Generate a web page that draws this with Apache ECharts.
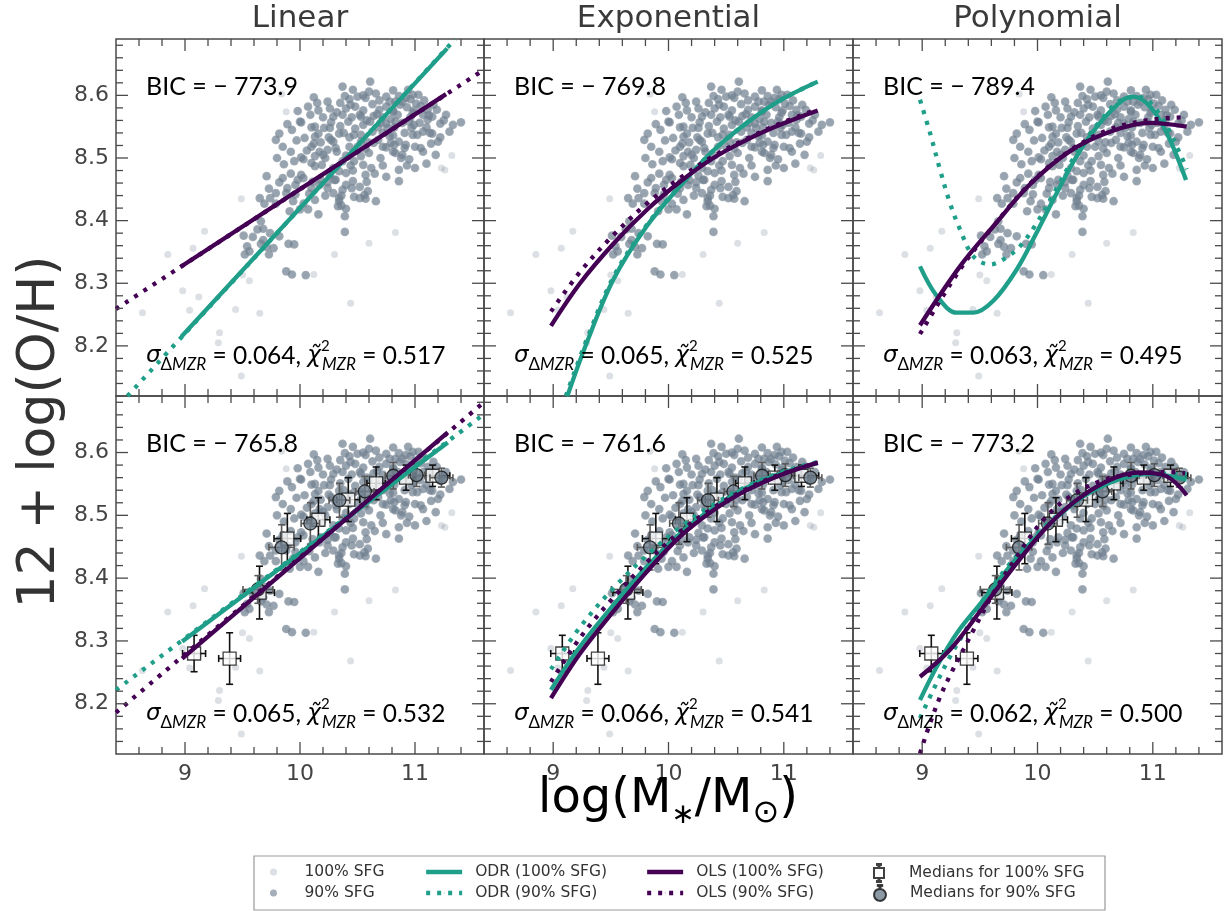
<!DOCTYPE html>
<html>
<head>
<meta charset="utf-8">
<title>Mass–metallicity relation fits</title>
<script src="https://cdn.jsdelivr.net/npm/echarts@6.0.0/dist/echarts.min.js"></script>
<style>
  html, body { margin: 0; padding: 0; background: #ffffff; }
  #chart { width: 1230px; height: 911px; }
</style>
</head>
<body>
<div id="chart"></div>
<script>
// ---- axis ranges and ticks ----
const X_RANGE = [8.4, 11.6];
const Y_RANGE = [8.12, 8.69];
const xMajorTicks = [9, 10, 11];
const xMinorTicks = [8.6, 8.8, 9.2, 9.4, 9.6, 9.8, 10.2, 10.4, 10.6, 10.8, 11.2, 11.4];
const yMajorTicks = [8.2, 8.3, 8.4, 8.5, 8.6];
const yMinorTicks = [8.14, 8.16, 8.18, 8.22, 8.24, 8.26, 8.28, 8.32, 8.34, 8.36, 8.38,
  8.42, 8.44, 8.46, 8.48, 8.52, 8.54, 8.56, 8.58, 8.62, 8.64, 8.66, 8.68];

// ---- panel annotations ----
const modelNames = ['Linear', 'Exponential', 'Polynomial'];
const bicTop = ['773.9', '769.8', '789.4'];
const bicBottom = ['765.8', '761.6', '773.2'];
const sigmaTop = ['0.064', '0.065', '0.063'];
const sigmaBottom = ['0.065', '0.066', '0.062'];
const chi2Top = ['0.517', '0.525', '0.495'];
const chi2Bottom = ['0.532', '0.541', '0.500'];

// ---- galaxies: 90% star-forming sample ----
const sfg90 = [
  [10.61,8.622],[10.37,8.614],[10.60,8.606],[10.12,8.597],[10.39,8.599],[10.43,8.594],[10.50,8.598],
  [10.57,8.596],[10.75,8.598],[10.81,8.608],[10.86,8.599],[10.94,8.609],[11.03,8.601],[10.96,8.594],
  [10.69,8.592],[10.89,8.590],[10.46,8.609],
  [10.07,8.582],[10.16,8.576],[10.26,8.579],[10.32,8.573],[10.40,8.579],[10.48,8.582],[10.55,8.576],
  [10.63,8.586],[10.75,8.582],[10.81,8.576],[10.87,8.585],[10.93,8.581],[10.99,8.576],[11.05,8.583],
  [11.11,8.577],[11.19,8.577],[11.27,8.569],[11.15,8.566],[11.07,8.569],[10.09,8.569],[10.20,8.565],
  [10.29,8.566],[10.37,8.569],[10.45,8.565],[10.52,8.569],[10.64,8.567],[10.72,8.565],[10.85,8.569],
  [10.96,8.565],[10.69,8.577],
  [9.89,8.554],[10.01,8.557],[10.10,8.549],[10.21,8.548],[10.27,8.557],[10.35,8.551],[10.42,8.558],
  [10.48,8.547],[10.55,8.553],[10.61,8.558],[10.68,8.549],[10.75,8.555],[10.82,8.549],[10.89,8.556],
  [10.97,8.548],[11.04,8.556],[11.10,8.549],[11.22,8.555],[11.33,8.553],[11.40,8.557],[11.15,8.539],
  [11.07,8.542],[10.98,8.537],[10.91,8.540],[10.81,8.536],[10.72,8.540],[10.63,8.542],[10.53,8.537],
  [10.43,8.533],[10.34,8.539],[10.25,8.533],[10.16,8.539],[9.82,8.539],[9.79,8.529],[10.04,8.532],
  [9.85,8.518],[9.92,8.510],[10.12,8.523],[10.18,8.525],[10.29,8.526],[10.43,8.518],[10.50,8.518],
  [10.64,8.524],[10.72,8.518],[10.83,8.508],[10.91,8.516],[11.00,8.518],[11.07,8.510],[11.14,8.523],
  [11.20,8.526],[10.32,8.510],[10.40,8.504],[10.53,8.503],[10.60,8.508],[10.75,8.517],[10.82,8.521],
  [10.17,8.510],
  [10.03,8.498],[10.10,8.492],[10.19,8.489],[10.29,8.484],[10.37,8.495],[10.44,8.488],[10.55,8.489],
  [10.62,8.484],[10.72,8.488],[10.86,8.481],[10.93,8.488],[11.00,8.484],[11.10,8.491],[10.13,8.487],
  [10.01,8.473],[10.26,8.472],[10.34,8.479],[10.46,8.480],[10.57,8.473],[10.65,8.475],[10.86,8.463],
  [10.75,8.470],[9.71,8.471],[9.85,8.468],[9.92,8.475],[9.82,8.461],[9.98,8.465],
  [9.73,8.451],[9.79,8.444],[9.88,8.444],[9.96,8.457],[10.10,8.452],[10.17,8.457],[10.24,8.461],
  [10.31,8.465],[10.40,8.457],[10.46,8.463],[10.52,8.454],[10.59,8.447],[10.29,8.444],[10.36,8.440],
  [10.47,8.438],[10.13,8.433],[9.89,8.452],[9.65,8.436],[9.69,8.427],
  [9.79,8.427],[9.91,8.415],[10.00,8.418],[10.07,8.418],[10.16,8.410],[10.34,8.431],[10.36,8.424],
  [10.40,8.419],[10.66,8.431],[10.57,8.435],[9.94,8.431],[10.39,8.407],
  [9.66,8.399],[9.63,8.386],[9.68,8.387],[9.51,8.376],[9.59,8.374],[9.74,8.380],[9.82,8.375],[10.39,8.382],
  [9.54,8.359],[9.56,8.351],[9.68,8.369],[9.71,8.358],[9.77,8.356],[9.90,8.363],[9.95,8.362],
  [9.73,8.346],[9.52,8.346],
  [9.88,8.319],[9.93,8.314],[10.05,8.313],
  [9.74,8.436],[9.96,8.442],[10.03,8.427],[9.66,8.363],[10.18,8.465],[10.03,8.468],[10.11,8.462],
  [10.53,8.566],[10.00,8.558],[10.13,8.550],[10.13,8.534],[10.27,8.529],[10.47,8.537],[10.53,8.526],
  [10.68,8.529],[10.79,8.524],[10.10,8.518],[10.24,8.513],[10.31,8.516],[10.13,8.503],[10.01,8.501],
  [10.20,8.505],[10.70,8.556],[10.76,8.548],
  [10.98,8.601],[10.83,8.590],[11.01,8.587],[10.81,8.574],[10.98,8.572],[10.83,8.558],[10.99,8.553],
  [11.11,8.561],[11.02,8.537],[10.86,8.526],[10.92,8.521],[11.05,8.516],[10.81,8.510],[10.89,8.505],
  [10.88,8.500],
  [10.40,8.476],[10.30,8.465],[10.24,8.452],[10.34,8.436],[10.33,8.423],[10.37,8.449],[10.56,8.441],
  [10.52,8.436],
  [10.55,8.600],[10.66,8.603],[10.78,8.590],[10.92,8.596],[11.08,8.592],[11.16,8.585],[10.44,8.585],
  [10.35,8.588],[10.24,8.590],[10.58,8.560],[10.67,8.570],[10.79,8.562],[10.95,8.558],[11.12,8.568],
  [11.25,8.560],[11.30,8.542],[11.22,8.533],[10.59,8.525],[10.70,8.500],[10.95,8.498],[11.18,8.505],
  [10.47,8.495],[10.22,8.500],[10.06,8.512],[9.97,8.528],[9.93,8.545],[9.98,8.575],[10.15,8.588],
  [10.26,8.548],[10.38,8.540],[10.57,8.515],[10.78,8.535],[11.13,8.540],[10.45,8.452],[10.22,8.440],
  [10.08,8.443],[9.86,8.490],[9.80,8.500],[9.95,8.495],[10.58,8.462]
];
// galaxies that are only in the full (100%) sample
const sfgExtra = [
  [8.63,8.253],[8.85,8.346],[9.07,8.356],[9.17,8.383],[8.98,8.288],[9.49,8.435],[9.50,8.313],
  [9.56,8.304],[9.65,8.252],[9.30,8.221],[9.29,8.205],[9.49,8.152],[9.84,8.602],[9.88,8.574],
  [11.32,8.504],[11.26,8.481],[11.23,8.484],[10.83,8.381],[10.60,8.364],[10.30,8.346],[10.12,8.314],
  [10.44,8.268],[9.12,8.278],[9.04,8.257],[9.44,8.258]
];
const sfg100 = sfg90.concat(sfgExtra);

// ---- binned medians (bottom row): [logM, 12+log(O/H)] and [xerr, yerr] ----
const med100 = [[9.079,8.280],[9.388,8.272],[9.648,8.377],[9.890,8.463],[10.160,8.493],
  [10.420,8.525],[10.662,8.551],[10.922,8.560],[11.153,8.563]];
const med100Err = [[0.10,0.029],[0.095,0.041],[0.13,0.042],[0.116,0.040],[0.10,0.035],
  [0.10,0.035],[0.08,0.026],[0.07,0.020],[0.15,0.017]];
const med90 = [[9.634,8.382],[9.840,8.449],[10.090,8.487],[10.343,8.524],[10.564,8.538],
  [10.811,8.563],[11.013,8.564],[11.230,8.560]];
const med90Err = [[0.13,0.022],[0.11,0.036],[0.08,0.033],[0.09,0.027],[0.08,0.024],
  [0.07,0.021],[0.07,0.018],[0.10,0.015]];

// ---- fitted relations, top row (all galaxies) ----
const linTopODR100 = [[8.97,8.215],[11.28,8.675]];
const linTopODR90  = [[8.50,8.120],[11.35,8.690]];
const linTopOLS100 = [[8.96,8.326],[11.27,8.602]];
const linTopOLS90  = [[8.40,8.259],[11.60,8.641]];

const expTopODR100 = [[9.123,8.120],[9.291,8.205],[9.522,8.306],[9.811,8.391],[10.100,8.455],
  [10.389,8.512],[10.678,8.556],[10.967,8.592],[11.294,8.622]];
const expTopODR90  = [[9.110,8.120],[9.291,8.210],[9.522,8.310],[9.811,8.393],[10.100,8.456],
  [10.389,8.512],[10.678,8.556],[10.967,8.592],[11.294,8.622]];
const expTopOLS100 = [[8.981,8.232],[9.233,8.300],[9.522,8.363],[9.811,8.417],[10.100,8.462],
  [10.389,8.500],[10.678,8.529],[10.967,8.553],[11.294,8.576]];
const expTopOLS90  = [[8.981,8.255],[9.233,8.318],[9.522,8.377],[9.811,8.427],[10.100,8.468],
  [10.389,8.503],[10.678,8.531],[10.967,8.555],[11.294,8.578]];

const polyTopODR100 = [[8.981,8.327],[9.126,8.280],[9.299,8.253],[9.444,8.253],[9.617,8.272],
  [9.820,8.322],[9.993,8.381],[10.167,8.444],[10.340,8.503],[10.542,8.556],[10.744,8.593],
  [10.831,8.598],[10.976,8.582],[11.121,8.540],[11.288,8.465]];
const polyTopODR90  = [[8.981,8.593],[9.068,8.540],[9.155,8.481],[9.241,8.428],[9.328,8.386],
  [9.444,8.343],[9.588,8.330],[9.704,8.338],[9.848,8.359],[9.993,8.396],[10.167,8.452],
  [10.340,8.508],[10.542,8.559],[10.744,8.594],[10.889,8.597],[11.063,8.569],[11.236,8.507],
  [11.294,8.482]];
const polyTopOLS100 = [[8.981,8.233],[9.328,8.327],[9.617,8.391],[9.935,8.458],[10.282,8.511],
  [10.629,8.542],[10.976,8.556],[11.294,8.550]];
const polyTopOLS90  = [[8.981,8.219],[9.328,8.322],[9.617,8.391],[9.935,8.459],[10.282,8.512],
  [10.629,8.546],[10.976,8.561],[11.294,8.565]];

// ---- fitted relations, bottom row (binned medians) ----
const linBotODR100 = [[8.975,8.299],[11.285,8.616]];
const linBotODR90  = [[8.40,8.222],[11.60,8.661]];
const linBotOLS100 = [[8.975,8.272],[11.285,8.632]];
const linBotOLS90  = [[8.40,8.186],[11.60,8.680]];

const expBotODR100 = [[8.981,8.222],[9.233,8.291],[9.522,8.357],[9.811,8.418],[10.100,8.471],
  [10.389,8.512],[10.678,8.544],[10.967,8.566],[11.294,8.583]];
const expBotODR90  = [[8.981,8.255],[9.233,8.322],[9.522,8.384],[9.811,8.436],[10.100,8.481],
  [10.389,8.517],[10.678,8.546],[10.967,8.568],[11.294,8.585]];
const expBotOLS100 = [[8.981,8.209],[9.233,8.280],[9.522,8.347],[9.811,8.410],[10.100,8.466],
  [10.389,8.508],[10.678,8.540],[10.967,8.564],[11.294,8.584]];
const expBotOLS90  = [[8.981,8.235],[9.233,8.305],[9.522,8.369],[9.811,8.425],[10.100,8.474],
  [10.389,8.512],[10.678,8.542],[10.967,8.565],[11.294,8.584]];

const polyBotODR100 = [[8.981,8.206],[9.126,8.259],[9.299,8.312],[9.530,8.365],[9.820,8.432],
  [10.109,8.487],[10.397,8.530],[10.687,8.556],[10.976,8.566],[11.294,8.557]];
const polyBotODR90  = [[8.981,8.177],[9.096,8.222],[9.241,8.275],[9.386,8.320],[9.530,8.366],
  [9.820,8.436],[10.109,8.490],[10.397,8.532],[10.687,8.557],[10.976,8.567],[11.294,8.565]];
const polyBotOLS100 = [[8.981,8.243],[9.241,8.286],[9.530,8.354],[9.820,8.424],[10.109,8.487],
  [10.397,8.532],[10.687,8.561],[10.889,8.568],[11.121,8.562],[11.294,8.532]];
const polyBotOLS90  = [[8.981,8.121],[9.068,8.169],[9.155,8.211],[9.241,8.245],[9.357,8.286],
  [9.444,8.317],[9.617,8.376],[9.820,8.434],[10.051,8.493],[10.282,8.530],[10.571,8.556],
  [10.860,8.566],[11.150,8.569],[11.280,8.567]];

const fitsODR100 = [linTopODR100, expTopODR100, polyTopODR100, linBotODR100, expBotODR100, polyBotODR100];
const fitsODR90  = [linTopODR90,  expTopODR90,  polyTopODR90,  linBotODR90,  expBotODR90,  polyBotODR90];
const fitsOLS100 = [linTopOLS100, expTopOLS100, polyTopOLS100, linBotOLS100, expBotOLS100, polyBotOLS100];
const fitsOLS90  = [linTopOLS90,  expTopOLS90,  polyTopOLS90,  linBotOLS90,  expBotOLS90,  polyBotOLS90];

// ---- styling ----
const TEAL = '#1f9e89';
const PURPLE = '#440154';
const AXIS_COLOR = '#4a4a4a';
const LABEL_COLOR = '#444444';
const DOT_DARK = 'rgba(112,128,144,0.8)';
const DOT_LIGHT = 'rgba(112,128,144,0.3)';
const MEDIAN_GREY = '#6f7f8f';
const FIT_WIDTH = 4.3;
const DOT_DASH = [4, 7];

const panelLeft = [116, 484, 853];
const panelWidth = [368, 369, 369];
const panelTop = [39, 396];
const panelHeight = [357, 358];

function isMultiple(v, step) {
  const k = v / step;
  return Math.abs(k - Math.round(k)) < 1e-6;
}

// inward ticks on all four sides of a panel
function renderTicks(params, api) {
  const cs = params.coordSys;
  const pt = api.coord([api.value(0), api.value(1)]);
  const len = api.value(3) ? 12 : 7;
  const style = { stroke: AXIS_COLOR, lineWidth: 1.3 };
  if (api.value(2) === 0) {
    const x = pt[0];
    return { type: 'group', children: [
      { type: 'line', shape: { x1: x, y1: cs.y + cs.height, x2: x, y2: cs.y + cs.height - len }, style },
      { type: 'line', shape: { x1: x, y1: cs.y, x2: x, y2: cs.y + len }, style }
    ]};
  }
  const y = pt[1];
  return { type: 'group', children: [
    { type: 'line', shape: { x1: cs.x, y1: y, x2: cs.x + len, y2: y }, style },
    { type: 'line', shape: { x1: cs.x + cs.width, y1: y, x2: cs.x + cs.width - len, y2: y }, style }
  ]};
}

// capped error bars in x and y
function makeErrorRenderer(color) {
  return function (params, api) {
    const x = api.value(0), y = api.value(1), dx = api.value(2), dy = api.value(3);
    const c = api.coord([x, y]);
    const l = api.coord([x - dx, y])[0], r = api.coord([x + dx, y])[0];
    const t = api.coord([x, y + dy])[1], b = api.coord([x, y - dy])[1];
    const cap = 3.5;
    const style = { stroke: color, lineWidth: 1.6 };
    return { type: 'group', children: [
      { type: 'line', shape: { x1: l, y1: c[1], x2: r, y2: c[1] }, style },
      { type: 'line', shape: { x1: l, y1: c[1] - cap, x2: l, y2: c[1] + cap }, style },
      { type: 'line', shape: { x1: r, y1: c[1] - cap, x2: r, y2: c[1] + cap }, style },
      { type: 'line', shape: { x1: c[0], y1: t, x2: c[0], y2: b }, style },
      { type: 'line', shape: { x1: c[0] - cap, y1: t, x2: c[0] + cap, y2: t }, style },
      { type: 'line', shape: { x1: c[0] - cap, y1: b, x2: c[0] + cap, y2: b }, style }
    ]};
  };
}

const tickData = [].concat(
  xMajorTicks.map(v => [v, Y_RANGE[0], 0, 1]),
  xMinorTicks.map(v => [v, Y_RANGE[0], 0, 0]),
  yMajorTicks.map(v => [X_RANGE[0], v, 1, 1]),
  yMinorTicks.map(v => [X_RANGE[0], v, 1, 0])
);
const med100Data = med100.map((p, i) => [p[0], p[1], med100Err[i][0], med100Err[i][1]]);
const med90Data = med90.map((p, i) => [p[0], p[1], med90Err[i][0], med90Err[i][1]]);

const grids = [], xAxes = [], yAxes = [], series = [], graphics = [];

for (let r = 0; r < 2; r++) {
  for (let c = 0; c < 3; c++) {
    const g = r * 3 + c;
    grids.push({
      left: panelLeft[c], top: panelTop[r], width: panelWidth[c], height: panelHeight[r],
      show: true, borderColor: AXIS_COLOR, borderWidth: 1.5, backgroundColor: 'rgba(0,0,0,0)',
      containLabel: false, outerBoundsMode: 'none'
    });
    xAxes.push({
      gridIndex: g, type: 'value', min: X_RANGE[0], max: X_RANGE[1], interval: 0.2,
      axisLine: { show: false }, axisTick: { show: false }, splitLine: { show: false },
      axisLabel: {
        show: r === 1, margin: 9, color: LABEL_COLOR, fontSize: 22, fontFamily: 'DejaVu Sans',
        formatter: v => isMultiple(v, 1) ? String(Math.round(v)) : ''
      }
    });
    yAxes.push({
      gridIndex: g, type: 'value', min: Y_RANGE[0], max: Y_RANGE[1], interval: 0.02,
      axisLine: { show: false }, axisTick: { show: false }, splitLine: { show: false },
      axisLabel: {
        show: c === 0, margin: 7, color: LABEL_COLOR, fontSize: 22, fontFamily: 'DejaVu Sans',
        formatter: v => isMultiple(v, 0.1) ? v.toFixed(1) : ''
      }
    });

    const common = { xAxisIndex: g, yAxisIndex: g };
    series.push(Object.assign({
      name: '100% SFG', type: 'scatter', data: sfg100, symbolSize: 7,
      itemStyle: { color: DOT_LIGHT }, silent: true, z: 1
    }, common));
    series.push(Object.assign({
      name: '90% SFG', type: 'scatter', data: sfg90, symbolSize: 8.7,
      itemStyle: { color: DOT_DARK }, silent: true, z: 2
    }, common));

    if (r === 1) {
      series.push(Object.assign({
        name: 'err100', type: 'custom', renderItem: makeErrorRenderer('#111111'),
        data: med100Data, dimensions: ['m', 'z', 'dm', 'dz'], encode: { x: 0, y: 1 }, z: 3, silent: true
      }, common));
      series.push(Object.assign({
        name: 'Medians for 100% SFG', type: 'scatter', data: med100, symbol: 'rect', symbolSize: 13,
        itemStyle: { color: '#ffffff', borderColor: '#111111', borderWidth: 1.3 }, z: 4, silent: true
      }, common));
      series.push(Object.assign({
        name: 'err90', type: 'custom', renderItem: makeErrorRenderer('#5a5a5a'),
        data: med90Data, dimensions: ['m', 'z', 'dm', 'dz'], encode: { x: 0, y: 1 }, z: 5, silent: true
      }, common));
      series.push(Object.assign({
        name: 'Medians for 90% SFG', type: 'scatter', data: med90, symbol: 'circle', symbolSize: 13,
        itemStyle: { color: MEDIAN_GREY, borderColor: '#111111', borderWidth: 1.3 }, z: 6, silent: true
      }, common));
    }

    const lineBase = { type: 'line', symbol: 'none', smooth: 0.35, clip: true, silent: true, z: 8 };
    series.push(Object.assign({}, lineBase, common, {
      name: 'ODR (100% SFG)', data: fitsODR100[g],
      lineStyle: { color: TEAL, width: FIT_WIDTH }, itemStyle: { color: TEAL }
    }));
    series.push(Object.assign({}, lineBase, common, {
      name: 'ODR (90% SFG)', data: fitsODR90[g],
      lineStyle: { color: TEAL, width: FIT_WIDTH, type: DOT_DASH }, itemStyle: { color: TEAL }
    }));
    series.push(Object.assign({}, lineBase, common, {
      name: 'OLS (100% SFG)', data: fitsOLS100[g],
      lineStyle: { color: PURPLE, width: FIT_WIDTH }, itemStyle: { color: PURPLE }
    }));
    series.push(Object.assign({}, lineBase, common, {
      name: 'OLS (90% SFG)', data: fitsOLS90[g],
      lineStyle: { color: PURPLE, width: FIT_WIDTH, type: DOT_DASH }, itemStyle: { color: PURPLE }
    }));

    series.push(Object.assign({
      type: 'custom', renderItem: renderTicks, data: tickData,
      dimensions: ['tx', 'ty', 'axis', 'major'], encode: { x: 0, y: 1 }, z: 20, silent: true
    }, common));

    // fit statistics written inside each panel
    const bic = r === 0 ? bicTop[c] : bicBottom[c];
    const sig = r === 0 ? sigmaTop[c] : sigmaBottom[c];
    const chi = r === 0 ? chi2Top[c] : chi2Bottom[c];
    graphics.push({
      type: 'text', x: panelLeft[c] + 30, y: panelTop[r] + 48, z: 30,
      style: {
        text: '{n|BIC = − ' + bic + '}',
        align: 'left', verticalAlign: 'middle', textAlign: 'left', textVerticalAlign: 'middle',
        rich: { n: { fontFamily: 'Lato', fontSize: 25, color: '#111111' } }
      }
    });
    graphics.push({
      type: 'text', x: panelLeft[c] + 30, y: panelTop[r] + panelHeight[r] - 40, z: 30,
      style: {
        text: '{it|σ}{subu|Δ}{sub|MZR}{n| = ' + sig + ', }{it|χ̃}{sup|2}{sub|MZR}{n| = ' + chi + '}',
        align: 'left', verticalAlign: 'middle', textAlign: 'left', textVerticalAlign: 'middle',
        rich: {
          n: { fontFamily: 'Lato', fontSize: 24.5, lineHeight: 34, verticalAlign: 'middle', color: '#111111' },
          it: { fontFamily: 'DejaVu Sans', fontStyle: 'italic', fontSize: 23, lineHeight: 34, verticalAlign: 'middle', color: '#111111' },
          sub: { fontFamily: 'Lato', fontStyle: 'italic', fontSize: 17, lineHeight: 17, verticalAlign: 'bottom', color: '#111111' },
          subu: { fontFamily: 'Lato', fontSize: 17, lineHeight: 17, verticalAlign: 'bottom', color: '#111111' },
          sup: { fontFamily: 'Lato', fontSize: 15, lineHeight: 17, verticalAlign: 'top', width: 1, color: '#111111' }
        }
      }
    });
  }
}

// column titles
modelNames.forEach((name, c) => {
  graphics.push({
    type: 'text', x: panelLeft[c] + panelWidth[c] / 2, y: 19, z: 30,
    style: {
      text: name, fontFamily: 'DejaVu Sans', fontSize: 31, fill: '#3a3a3a',
      align: 'center', verticalAlign: 'middle', textAlign: 'center', textVerticalAlign: 'middle'
    }
  });
});

// axis titles
graphics.push({
  type: 'text', x: 40, y: 432, rotation: Math.PI / 2, z: 30,
  style: {
    text: '12\u2005+\u2005log(O/H)', fontFamily: 'DejaVu Sans', fontSize: 52, fill: '#333333',
    align: 'center', verticalAlign: 'middle', textAlign: 'center', textVerticalAlign: 'middle'
  }
});
graphics.push({
  type: 'text', x: 668, y: 800, z: 30,
  style: {
    text: '{n|log(M}{a|∗}{n|/M}{s|⊙}{n|)}',
    align: 'center', verticalAlign: 'middle', textAlign: 'center', textVerticalAlign: 'middle',
    rich: {
      n: { fontFamily: 'DejaVu Sans', fontSize: 48, lineHeight: 60, verticalAlign: 'middle', color: '#333333' },
      a: { fontFamily: 'DejaVu Sans', fontSize: 28, lineHeight: 38, verticalAlign: 'bottom', color: '#333333' },
      s: { fontFamily: 'DejaVu Sans', fontSize: 32, lineHeight: 40, verticalAlign: 'bottom', color: '#333333' }
    }
  }
});

// legend frame
graphics.push({
  type: 'rect', z: 0, shape: { x: 254, y: 856, width: 851, height: 54 },
  style: { fill: '#ffffff', stroke: '#999999', lineWidth: 1.2 }
});

const legendText = { fontFamily: 'DejaVu Sans', fontSize: 15.5, color: '#333333' };
function legendItem(name, left, top, w, h, pad, icon) {
  return {
    data: [icon ? { name: name, icon: icon } : name], left: left, top: top,
    itemWidth: w, itemHeight: h, selectedMode: false, padding: 0, itemGap: 0,
    lineStyle: { width: FIT_WIDTH },
    textStyle: Object.assign({ padding: [0, 0, 0, pad] }, legendText), z: 40
  };
}
const medianSquareIcon = 'path://M4,0H8V1H6.5V4H11V14H6.5V17H8V18H4V17H5.5V14H1V4H5.5V1H4Z';
const medianCircleIcon = 'path://M4,0H8V1H6.5V3.6A5.5,5.5 0 1 1 5.5,3.6V1H4Z';
// line entries use a 1px-high item box so only the stroked line sample shows
const legends = [
  legendItem('100% SFG', 270, 864, 14, 7, 19),
  legendItem('90% SFG', 270, 885, 14, 7, 19),
  legendItem('ODR (100% SFG)', 424, 864, 36, 1, 8),
  legendItem('ODR (90% SFG)', 424, 885, 36, 1, 8),
  legendItem('OLS (100% SFG)', 645, 864, 36, 1, 8),
  legendItem('OLS (90% SFG)', 645, 885, 36, 1, 8),
  legendItem('Medians for 100% SFG', 873, 863, 12, 18, 19, medianSquareIcon),
  legendItem('Medians for 90% SFG', 873, 884, 12, 18, 19, medianCircleIcon)
];

const chart = echarts.init(document.getElementById('chart'), null, { renderer: 'canvas' });
chart.setOption({
  animation: false,
  backgroundColor: '#ffffff',
  grid: grids,
  xAxis: xAxes,
  yAxis: yAxes,
  legend: legends,
  series: series,
  graphic: { elements: graphics }
});
</script>
</body>
</html>
